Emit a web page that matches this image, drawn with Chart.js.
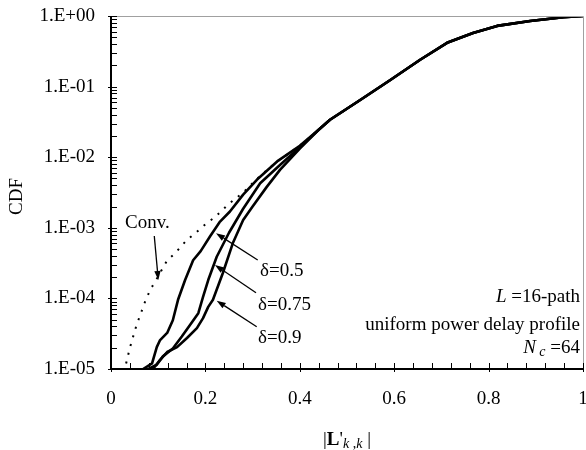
<!DOCTYPE html>
<html>
<head>
<meta charset="utf-8">
<script src="https://cdn.jsdelivr.net/npm/chart.js@4.4.0/dist/chart.umd.min.js"></script>
<style>
  html, body { margin: 0; padding: 0; background: #fff; }
  canvas { display: block; }
</style>
</head>
<body>
<canvas id="cdf" width="586" height="450"></canvas>
<script>
const FONT = "'Liberation Serif', 'Times New Roman', serif";

// curves (x = |L'k,k|, y = CDF)
const convX = [0.032, 0.040, 0.054, 0.072, 0.083, 0.097, 0.119, 0.136, 0.161, 0.178, 0.203, 0.220, 0.250, 0.280, 0.310, 0.352, 0.400];
const convY = [1.2e-5, 2.0e-5, 4.17e-5, 8.9e-5, 1.32e-4, 1.9e-4, 3.47e-4, 4.37e-4, 6.76e-4, 8.32e-4, 1.17e-3, 1.41e-3, 2.19e-3, 3.16e-3, 5.0e-3, 8.71e-3, 1.45e-2];

const d05X = [0.068, 0.087, 0.097, 0.104, 0.119, 0.131, 0.142, 0.157, 0.174, 0.190, 0.210, 0.230, 0.252, 0.280, 0.309, 0.352, 0.400];
const d05Y = [1.0e-5, 1.2e-5, 2.04e-5, 2.57e-5, 3.24e-5, 4.9e-5, 9.55e-5, 1.82e-4, 3.47e-4, 4.68e-4, 7.59e-4, 1.2e-3, 1.7e-3, 2.95e-3, 4.79e-3, 8.71e-3, 1.45e-2];

const d075X = [0.079, 0.097, 0.110, 0.131, 0.150, 0.167, 0.185, 0.195, 0.206, 0.224, 0.250, 0.280, 0.316, 0.358, 0.400];
const d075Y = [1.0e-5, 1.15e-5, 1.51e-5, 1.95e-5, 2.88e-5, 4.17e-5, 6.17e-5, 1.05e-4, 1.82e-4, 3.89e-4, 8.51e-4, 1.86e-3, 4.27e-3, 7.76e-3, 1.38e-2];

const d09X = [0.089, 0.104, 0.119, 0.140, 0.161, 0.182, 0.195, 0.206, 0.216, 0.237, 0.258, 0.280, 0.300, 0.330, 0.358, 0.400];
const d09Y = [1.0e-5, 1.35e-5, 1.74e-5, 2.04e-5, 2.75e-5, 3.8e-5, 5.25e-5, 7.59e-5, 9.55e-5, 2.29e-4, 6.03e-4, 1.29e-3, 2.0e-3, 3.8e-3, 6.61e-3, 1.32e-2];

// common upper part where all curves coincide
const tailX = [0.440, 0.464, 0.528, 0.591, 0.655, 0.712, 0.767, 0.818, 0.888, 0.958, 1.000];
const tailY = [2.45e-2, 3.39e-2, 6.46e-2, 0.123, 0.240, 0.417, 0.575, 0.724, 0.851, 0.959, 1.0];

const yTicks = [1e-5, 1e-4, 1e-3, 1e-2, 1e-1, 1];
const yLabels = ["1.E-05", "1.E-04", "1.E-03", "1.E-02", "1.E-01", "1.E+00"];
const xTicks = [0, 0.2, 0.4, 0.6, 0.8, 1];
const xLabels = ["0", "0.2", "0.4", "0.6", "0.8", "1"];

// annotations, in data units: label position and arrow tail -> head
const notes = [
  { text: "Conv.",  at: [0.0297, 9.93e-4], tail: [0.0917, 7.65e-4], head: [0.1002, 1.82e-4] },
  { text: "\u03b4=0.5",  at: [0.3157, 2.08e-4], tail: [0.3108, 3.50e-4], head: [0.2225, 8.36e-4] },
  { text: "\u03b4=0.75", at: [0.3114, 6.85e-5], tail: [0.3072, 1.20e-4], head: [0.2203, 2.97e-4] },
  { text: "\u03b4=0.9",  at: [0.3114, 2.34e-5], tail: [0.3087, 3.97e-5], head: [0.2239, 9.27e-5] }
];

const pts = (xs, ys, tail) => {
  const ax = tail ? xs.concat(tailX) : xs;
  const ay = tail ? ys.concat(tailY) : ys;
  return ax.map((x, i) => ({ x, y: ay[i] }));
};

const solid = (data) => ({
  data, borderColor: "#000", borderWidth: 2.6, pointRadius: 0, showLine: true,
  tension: 0, borderJoinStyle: "round", fill: false
});

// draw a run of text pieces with different fonts
function runs(ctx, parts, x, y, align) {
  let w = 0;
  parts.forEach(p => { ctx.font = p.f; w += ctx.measureText(p.t).width; });
  let cx = align === "right" ? x - w : align === "center" ? x - w / 2 : x;
  ctx.textAlign = "left";
  ctx.textBaseline = "alphabetic";
  parts.forEach(p => {
    ctx.font = p.f;
    ctx.fillText(p.t, cx, y + (p.dy || 0));
    cx += ctx.measureText(p.t).width;
  });
}

function arrow(ctx, x1, y1, x2, y2) {
  const a = Math.atan2(y2 - y1, x2 - x1), len = 9, wid = 3.2;
  const bx = x2 - len * Math.cos(a), by = y2 - len * Math.sin(a);
  ctx.beginPath();
  ctx.moveTo(x1, y1);
  ctx.lineTo(bx, by);
  ctx.stroke();
  ctx.beginPath();
  ctx.moveTo(x2, y2);
  ctx.lineTo(bx + wid * Math.sin(a), by - wid * Math.cos(a));
  ctx.lineTo(bx - wid * Math.sin(a), by + wid * Math.cos(a));
  ctx.closePath();
  ctx.fill();
}

const deco = {
  id: "deco",
  afterDraw(chart) {
    const { ctx, chartArea: ca } = chart;
    const xs = chart.scales.x, ys = chart.scales.y;
    ctx.save();

    // frame: grey top/right, black axes
    ctx.strokeStyle = "#a0a0a0";
    ctx.lineWidth = 1;
    ctx.beginPath();
    ctx.moveTo(ca.left, ca.top + 0.5); ctx.lineTo(ca.right + 0.5, ca.top + 0.5);
    ctx.lineTo(ca.right + 0.5, ca.bottom);
    ctx.stroke();

    ctx.strokeStyle = "#000";
    ctx.lineWidth = 2;
    ctx.beginPath();
    ctx.moveTo(ca.left, ca.top); ctx.lineTo(ca.left, ca.bottom);
    ctx.lineTo(ca.right + 1, ca.bottom);
    ctx.stroke();

    // tick marks pointing inside
    ctx.lineWidth = 1;
    ctx.beginPath();
    for (let i = 0; i <= 25; i++) {
      const px = Math.round(xs.getPixelForValue(i * 0.04)) + 0.5;
      const major = i % 5 === 0;
      ctx.moveTo(px, ca.bottom - 6);
      ctx.lineTo(px, ca.bottom + (major ? 3 : 0));
    }
    for (let e = -5; e <= 0; e++) {
      for (let m = 1; m <= 9; m++) {
        const v = m * Math.pow(10, e);
        if (v > 1) break;
        const py = Math.round(ys.getPixelForValue(v)) + 0.5;
        ctx.moveTo(ca.left - (m === 1 ? 3 : 0), py);
        ctx.lineTo(ca.left + 6, py);
      }
    }
    ctx.stroke();

    ctx.fillStyle = "#000";

    // axis titles
    ctx.save();
    ctx.translate(17, (ca.top + ca.bottom) / 2 + 4);
    ctx.rotate(-Math.PI / 2);
    ctx.font = "19px " + FONT;
    ctx.textAlign = "center";
    ctx.textBaseline = "middle";
    ctx.fillText("CDF", 0, 0);
    ctx.restore();

    runs(ctx, [
      { t: "|", f: "19px " + FONT },
      { t: "L", f: "bold 19px " + FONT },
      { t: "'", f: "19px " + FONT },
      { t: "k", f: "italic 14px " + FONT, dy: 3 },
      { t: " ,", f: "14px " + FONT, dy: 3 },
      { t: "k", f: "italic 14px " + FONT, dy: 3 },
      { t: " |", f: "19px " + FONT }
    ], (ca.left + ca.right) / 2, 445, "center");

    // parameter block, lower right
    const rx = ca.right - 3;
    runs(ctx, [
      { t: "L", f: "italic 19px " + FONT },
      { t: " =16-path", f: "19px " + FONT }
    ], rx, ca.bottom - 67, "right");
    runs(ctx, [{ t: "uniform power delay profile", f: "19px " + FONT }], rx, ca.bottom - 39, "right");
    runs(ctx, [
      { t: "N", f: "italic 19px " + FONT },
      { t: " c", f: "italic 14px " + FONT, dy: 3 },
      { t: " =64", f: "19px " + FONT }
    ], rx, ca.bottom - 16, "right");

    // curve labels with arrows
    ctx.lineWidth = 1.3;
    notes.forEach(n => {
      runs(ctx, [{ t: n.text, f: "19px " + FONT }],
        xs.getPixelForValue(n.at[0]), ys.getPixelForValue(n.at[1]), "left");
      arrow(ctx,
        xs.getPixelForValue(n.tail[0]), ys.getPixelForValue(n.tail[1]),
        xs.getPixelForValue(n.head[0]), ys.getPixelForValue(n.head[1]));
    });

    ctx.restore();
  }
};

new Chart(document.getElementById("cdf"), {
  type: "scatter",
  data: {
    datasets: [
      solid(pts(d05X, d05Y, true)),
      solid(pts(d075X, d075Y, true)),
      solid(pts(d09X, d09Y, true)),
      {
        data: pts(convX, convY, true), borderColor: "#000", borderWidth: 2,
        borderDash: [2, 7], pointRadius: 0, showLine: true, tension: 0, fill: false
      }
    ]
  },
  options: {
    responsive: false,
    animation: false,
    events: [],
    layout: { padding: { left: 0, right: 3, top: 16, bottom: 0 } },
    plugins: { legend: { display: false }, tooltip: { enabled: false } },
    scales: {
      x: {
        type: "linear", min: 0, max: 1,
        grid: { display: false, drawTicks: false },
        border: { display: false },
        afterBuildTicks: s => { s.ticks = xTicks.map(v => ({ value: v })); },
        afterFit: s => { s.height = 81; s.paddingLeft = 0; s.paddingRight = 0; },
        ticks: {
          color: "#000", padding: 19, maxRotation: 0, autoSkip: false,
          font: { family: FONT, size: 19 },
          callback: (v) => xLabels[xTicks.indexOf(v)] ?? ""
        }
      },
      y: {
        type: "logarithmic", min: 1e-5, max: 1,
        grid: { display: false, drawTicks: false },
        border: { display: false },
        afterBuildTicks: s => { s.ticks = yTicks.map(v => ({ value: v })); },
        afterFit: s => { s.width = 111; s.paddingTop = 0; s.paddingBottom = 0; },
        ticks: {
          color: "#000", padding: 16, autoSkip: false,
          font: { family: FONT, size: 19 },
          callback: (v) => yLabels[yTicks.indexOf(v)] ?? ""
        }
      }
    }
  },
  plugins: [deco]
});
</script>
</body>
</html>
